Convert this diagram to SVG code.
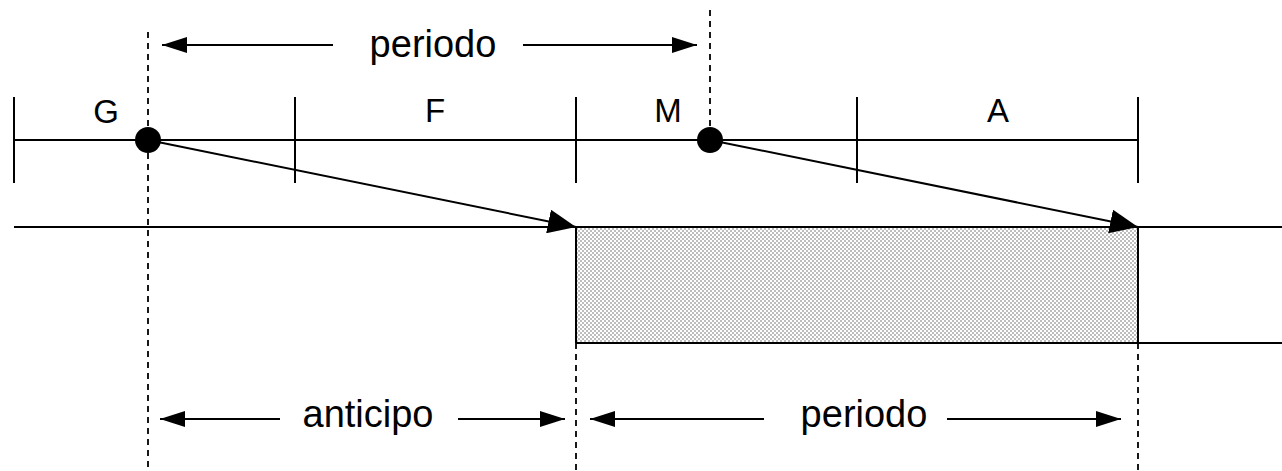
<svg xmlns="http://www.w3.org/2000/svg" width="1282" height="471" viewBox="0 0 1282 471">
<style>
.ln{stroke:#000;stroke-width:2;fill:none}
.dash{stroke:#000;stroke-width:1.8;stroke-dasharray:6,5;fill:none}
.big{font-family:"Liberation Sans",Arial,sans-serif;font-size:38px;fill:#000;text-anchor:middle}
.lbl{font-family:"Liberation Sans",Arial,sans-serif;font-size:33px;fill:#000;text-anchor:middle}
</style>
<defs>
<pattern id="chk" width="4" height="4" patternUnits="userSpaceOnUse">
<rect width="4" height="4" fill="#fff"/>
<rect width="2" height="2" fill="#bdbdbd"/>
<rect x="2" y="2" width="2" height="2" fill="#bdbdbd"/>
</pattern>
<marker id="ah" viewBox="0 0 28 24" refX="28" refY="12" markerWidth="28" markerHeight="24" markerUnits="userSpaceOnUse" orient="auto">
<path d="M0,0 L28,12 L0,24 Z" fill="#000"/>
</marker>
<marker id="dh" viewBox="0 0 25 16" refX="25" refY="8" markerWidth="25" markerHeight="16" markerUnits="userSpaceOnUse" orient="auto-start-reverse">
<path d="M0,0 L25,8 L0,16 Z" fill="#000"/>
</marker>
</defs>
<rect id="shaded" x="576" y="227" width="562" height="116" fill="url(#chk)"/>
<g id="guides">
<line class="dash" x1="148" y1="32" x2="148" y2="471"/>
<line class="dash" x1="710" y1="10" x2="710" y2="128"/>
<line class="dash" x1="576" y1="343" x2="576" y2="471"/>
<line class="dash" x1="1138" y1="343" x2="1138" y2="471"/>
</g>
<g id="timeline">
<line class="ln" x1="14" y1="140" x2="1138" y2="140"/>
<line class="ln" x1="14" y1="97" x2="14" y2="183"/>
<line class="ln" x1="295" y1="97" x2="295" y2="183"/>
<line class="ln" x1="576" y1="97" x2="576" y2="183"/>
<line class="ln" x1="857" y1="97" x2="857" y2="183"/>
<line class="ln" x1="1138" y1="97" x2="1138" y2="183"/>
<text class="lbl" x="106" y="123">G</text>
<text class="lbl" x="435" y="122">F</text>
<text class="lbl" x="668" y="122">M</text>
<text class="lbl" x="998" y="122">A</text>
</g>
<g id="band">
<line class="ln" x1="14" y1="227" x2="1282" y2="227"/>
<line class="ln" x1="576" y1="343" x2="1282" y2="343"/>
<line class="ln" x1="576" y1="227" x2="576" y2="343"/>
<line class="ln" x1="1138" y1="227" x2="1138" y2="343"/>
</g>
<g id="node-g"><circle cx="148" cy="140" r="13" fill="#000"/></g>
<g id="node-m"><circle cx="710" cy="140" r="13" fill="#000"/></g>
<g id="connectors">
<line class="ln" x1="148" y1="140" x2="576" y2="227" marker-end="url(#ah)"/>
<line class="ln" x1="710" y1="140" x2="1138" y2="227" marker-end="url(#ah)"/>
<line class="ln" x1="333" y1="45" x2="162" y2="45" marker-end="url(#dh)"/>
<line class="ln" x1="523" y1="45" x2="697" y2="45" marker-end="url(#dh)"/>
<line class="ln" x1="280" y1="419" x2="160" y2="419" marker-end="url(#dh)"/>
<line class="ln" x1="458" y1="419" x2="565" y2="419" marker-end="url(#dh)"/>
<line class="ln" x1="764" y1="419" x2="590" y2="419" marker-end="url(#dh)"/>
<line class="ln" x1="947" y1="419" x2="1121" y2="419" marker-end="url(#dh)"/>
</g>
<g id="dims">
<text class="big" x="433" y="57">periodo</text>
<text class="big" x="368" y="427">anticipo</text>
<text class="big" x="864" y="427">periodo</text>
</g>
</svg>
